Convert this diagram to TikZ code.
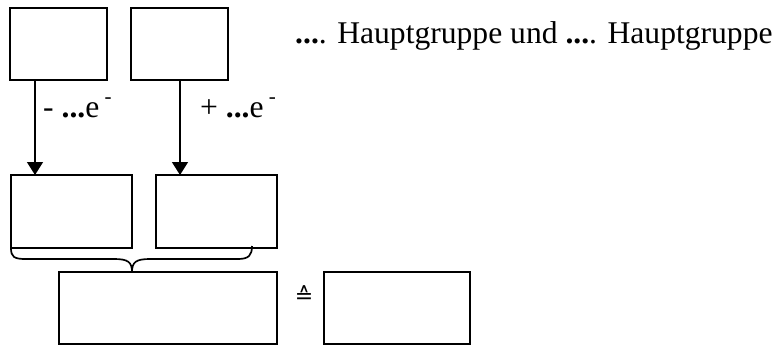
\documentclass[tikz,border=0pt]{standalone}
\usepackage{fontspec}
\setmainfont{Liberation Serif}
\newfontfamily\symfont{DejaVu Sans}
\usetikzlibrary{arrows.meta}
\begin{document}
\begin{tikzpicture}[x=1pt,y=-1pt,
  box/.style={draw, line width=1.7pt, inner sep=0pt, outer sep=0pt, anchor=north west},
  arr/.style={line width=1.5pt, -{Triangle[width=16pt,length=13pt]}},
  lbl/.style={inner sep=0pt, anchor=base west, font=\fontsize{31.6}{36}\selectfont},
  bracestyle/.style={line width=1.7pt}]
\useasboundingbox (0,0) rectangle (776,349);
\node[box, minimum width=97pt, minimum height=72pt] (A) at (10,8) {};
\node[box, minimum width=97pt, minimum height=72pt] (B) at (131,8) {};
\node[box, minimum width=121pt, minimum height=73pt] (C) at (11,175) {};
\node[box, minimum width=121pt, minimum height=73pt] (D) at (156,175) {};
\node[box, minimum width=218pt, minimum height=72pt] (E) at (59,272) {};
\node[box, minimum width=146pt, minimum height=72pt] (F) at (324,272) {};
\coordinate (xa) at (35,0);
\coordinate (xb) at (180,0);
\draw[arr] (A.south -| xa) -- (C.north -| xa);
\draw[arr] (B.south -| xb) -- (D.north -| xb);
\node[lbl] (la) at (43,117) {- \textbf{...}e\raisebox{14pt}{\fontsize{21}{21}\selectfont\ -}};
\node[lbl] (lb) at (200,117) {+ \textbf{...}e\raisebox{14pt}{\fontsize{21}{21}\selectfont\ -}};
\node[lbl] (title) at (295,43) {\textbf{...}. Hauptgruppe und \textbf{...}. Hauptgruppe};
\coordinate (tip) at (132,272);
\draw[bracestyle] (C.south west) .. controls (11,257) and (14,259) .. (26,259) -- (114,259)
  .. controls (128,259) and (132,262) .. (tip)
  .. controls (132,262) and (136,259) .. (150,259) -- (238,259)
  .. controls (249,259) and (252,255) .. (252,246);
\node[inner sep=0pt, font=\symfont\fontsize{22}{22}\selectfont] (eq) at (304,295) {≙};
\end{tikzpicture}
\end{document}
